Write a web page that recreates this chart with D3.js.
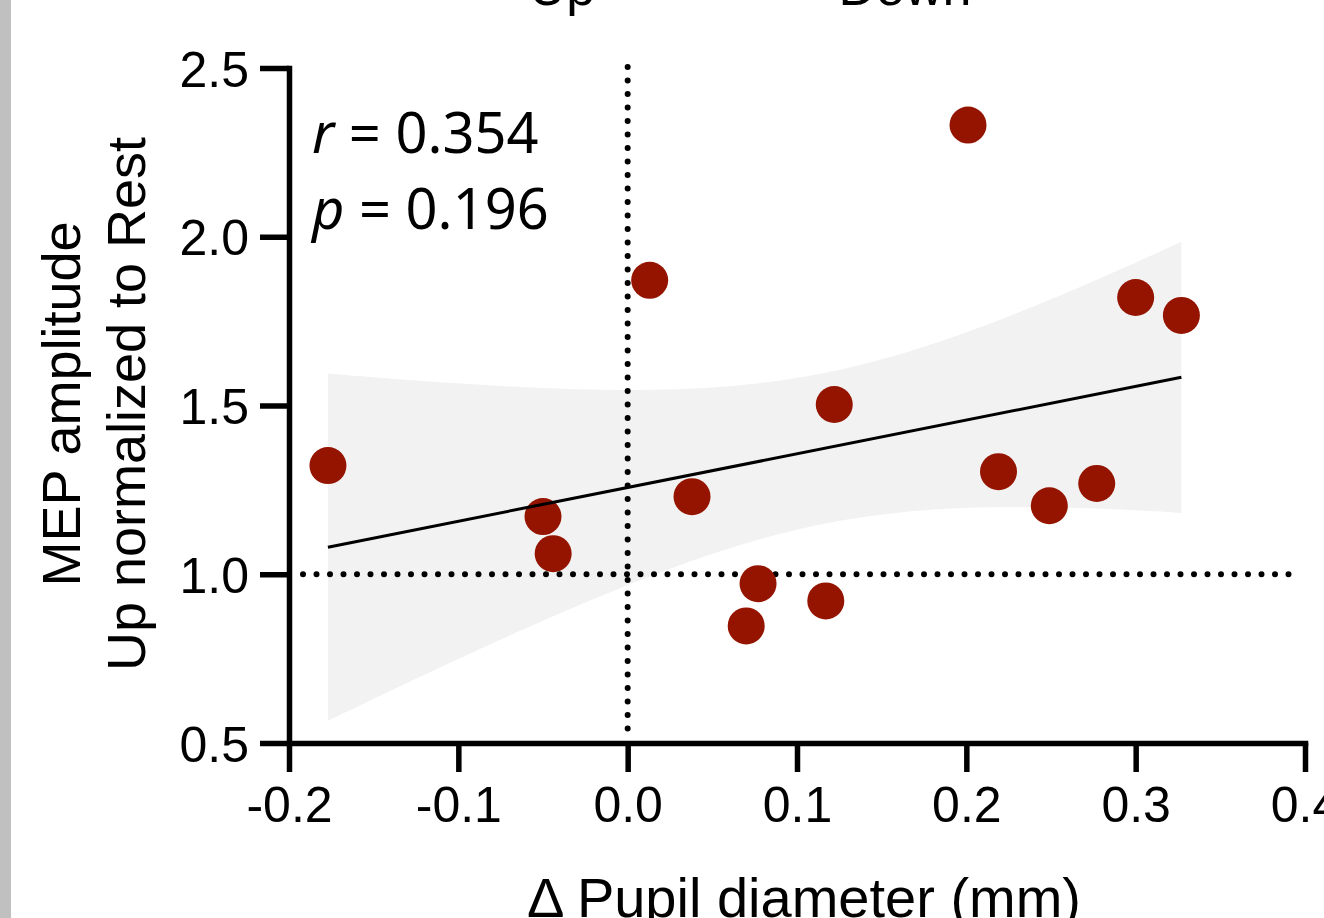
<!DOCTYPE html>
<html>
<head>
<meta charset="utf-8">
<script src="https://cdn.jsdelivr.net/npm/d3@7"></script>
<style>
  html, body { margin: 0; padding: 0; background: #fff; }
  svg { display: block; }
  text { font-family: "Liberation Sans", Arial, sans-serif; fill: #000; }
</style>
</head>
<body>
<div id="chart"></div>
<script>
// pupil change (mm) vs normalized MEP amplitude, one point per subject
const pupilDelta = [-0.177, -0.050, -0.044, 0.013, 0.038, 0.077, 0.070, 0.122, 0.117, 0.201, 0.219, 0.249, 0.277, 0.300, 0.327];
const mepRatio   = [1.322, 1.171, 1.061, 1.871, 1.230, 0.972, 0.847, 1.503, 0.921, 2.331, 1.304, 1.203, 1.269, 1.820, 1.767];

const xTicks = [-0.2, -0.1, 0.0, 0.1, 0.2, 0.3, 0.4];
const yTicks = [0.5, 1.0, 1.5, 2.0, 2.5];
const statLines = [["r", " = 0.354"], ["p", " = 0.196"]];
const topLabels = [["Up", 562], ["Down", 905]];

const width = 1324;
const height = 918;

const svg = d3.select("#chart").append("svg")
  .attr("width", width)
  .attr("height", height);

// grey strip on the left edge
svg.append("rect")
  .attr("x", 0).attr("y", 0)
  .attr("width", 11).attr("height", height)
  .attr("fill", "#c0c0c0");

const x = d3.scaleLinear().domain([-0.2, 0.4]).range([289, 1305]);
const y = d3.scaleLinear().domain([0.5, 2.5]).range([743, 68]);

// linear fit + 95% CI band (t for df = 13)
const n = pupilDelta.length;
const mx = d3.mean(pupilDelta);
const my = d3.mean(mepRatio);
let sxx = 0, sxy = 0, syy = 0;
for (let i = 0; i < n; i++) {
  const dx = pupilDelta[i] - mx, dy = mepRatio[i] - my;
  sxx += dx * dx; sxy += dx * dy; syy += dy * dy;
}
const slope = sxy / sxx;
const icpt = my - slope * mx;
const s = Math.sqrt((syy - slope * sxy) / (n - 2));
const tCrit = 2.160;
const fit = v => icpt + slope * v;
const half = v => tCrit * s * Math.sqrt(1 / n + (v - mx) * (v - mx) / sxx);

const [x0, x1] = d3.extent(pupilDelta);
const band = d3.range(0, 101).map(i => {
  const v = x0 + (x1 - x0) * i / 100;
  return { v, lo: fit(v) - half(v), hi: fit(v) + half(v) };
});

svg.append("path")
  .datum(band)
  .attr("fill", "#f2f2f2")
  .attr("d", d3.area().x(d => x(d.v)).y0(d => y(d.lo)).y1(d => y(d.hi)));

// dotted reference lines
svg.append("line")
  .attr("x1", x(0)).attr("x2", x(0))
  .attr("y1", 67).attr("y2", 740)
  .attr("stroke", "#000").attr("stroke-width", 6)
  .attr("stroke-linecap", "round")
  .attr("stroke-dasharray", "0 13.5");

svg.append("line")
  .attr("x1", 303).attr("x2", 1300)
  .attr("y1", y(1)).attr("y2", y(1))
  .attr("stroke", "#000").attr("stroke-width", 6)
  .attr("stroke-linecap", "round")
  .attr("stroke-dasharray", "0 13.5");

svg.selectAll(".dot")
  .data(d3.zip(pupilDelta, mepRatio))
  .join("circle")
  .attr("class", "dot")
  .attr("cx", d => x(d[0]))
  .attr("cy", d => y(d[1]))
  .attr("r", 18.5)
  .attr("fill", "#941400");

svg.append("line")
  .attr("x1", x(x0)).attr("y1", y(fit(x0)))
  .attr("x2", x(x1)).attr("y2", y(fit(x1)))
  .attr("stroke", "#000")
  .attr("stroke-width", 3);

// axes (plain hyphen for negatives, like the original)
const fmt = v => d3.format(".1f")(v).replace("−", "-");

const xAxis = svg.append("g")
  .attr("transform", `translate(0, ${y(0.5)})`)
  .call(d3.axisBottom(x).tickValues(xTicks).tickFormat(fmt).tickSize(29).tickSizeOuter(0).tickPadding(14));

const yAxis = svg.append("g")
  .attr("transform", `translate(${x(-0.2)}, 0)`)
  .call(d3.axisLeft(y).tickValues(yTicks).tickFormat(fmt).tickSize(29).tickSizeOuter(0).tickPadding(11));

[xAxis, yAxis].forEach(g => {
  g.select(".domain").attr("stroke-width", 5.5).attr("stroke-linecap", "square");
  g.selectAll(".tick line").attr("stroke-width", 5.5);
  g.selectAll(".tick text")
    .style("font-family", "'Liberation Sans', Arial, sans-serif")
    .style("font-size", "50px")
    .attr("fill", "#000");
});
yAxis.selectAll(".tick text").attr("dy", "0.36em");

// stats annotation
statLines.forEach(([sym, rest], i) => {
  const t = svg.append("text")
    .attr("x", 312)
    .attr("y", 153 + i * 76)
    .style("font-family", "'Noto Sans', sans-serif")
    .style("font-size", "56px");
  t.append("tspan").style("font-style", "italic").text(sym);
  t.append("tspan").text(rest);
});

// axis titles
svg.append("text")
  .attr("x", 804)
  .attr("y", 917)
  .attr("text-anchor", "middle")
  .style("font-size", "56px")
  .text("Δ Pupil diameter (mm)");

const yTitle = svg.append("g")
  .attr("transform", "translate(0, 404) rotate(-90)");
yTitle.append("text")
  .attr("x", 0).attr("y", 80)
  .attr("text-anchor", "middle")
  .style("font-size", "54px")
  .text("MEP amplitude");
yTitle.append("text")
  .attr("x", 0).attr("y", 145)
  .attr("text-anchor", "middle")
  .style("font-size", "54px")
  .text("Up normalized to Rest");

// column labels cut at the top edge
svg.selectAll(".top-label")
  .data(topLabels)
  .join("text")
  .attr("class", "top-label")
  .attr("x", d => d[1])
  .attr("y", 5)
  .attr("text-anchor", "middle")
  .style("font-size", "52px")
  .text(d => d[0]);
</script>
</body>
</html>
